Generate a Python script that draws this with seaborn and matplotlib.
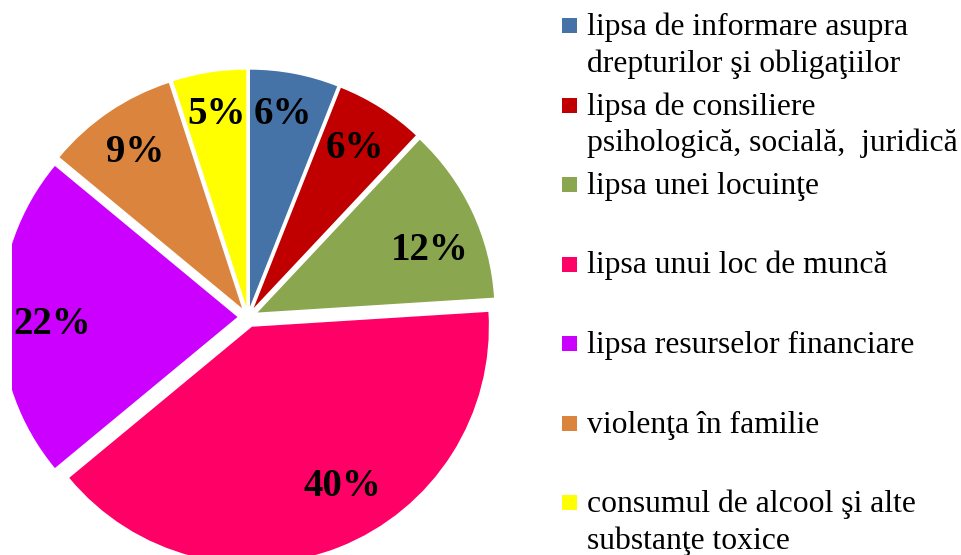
import matplotlib
matplotlib.use("Agg")
import matplotlib.pyplot as plt
import seaborn as sns
from matplotlib.patches import Rectangle

# data
categories = [
    "lipsa de informare asupra\ndrepturilor şi obligaţiilor",
    "lipsa de consiliere\npsihologică, socială,  juridică",
    "lipsa unei locuinţe",
    "lipsa unui loc de muncă",
    "lipsa resurselor financiare",
    "violenţa în familie",
    "consumul de alcool şi alte\nsubstanţe toxice",
]
shares = [6, 6, 12, 40, 22, 9, 5]
colors = ["#4572A7", "#C00000", "#8AA64F", "#FF0066", "#CC00FF", "#DB843D", "#FFFF00"]

sns.set_theme(style="white")
plt.rcParams["font.family"] = ["Liberation Serif", "DejaVu Serif"]

W, H = 962, 555
fig = plt.figure(figsize=(W / 100, H / 100), dpi=100)
fig.patch.set_facecolor("white")

# pie axes in pixel units, left edge clipped like the original
left = 12
ax = fig.add_axes([left / W, 0, (W - left) / W, 1])
palette = sns.color_palette(colors)
wedges, texts, pcts = ax.pie(
    shares,
    colors=palette,
    startangle=90,
    counterclock=False,
    explode=[10.5] * len(shares),  # pixels, pie uses data units here
    radius=237,
    center=(248, H - 317),
    autopct=lambda p: f"{p:.0f}%",
    pctdistance=0.8,
    wedgeprops=dict(linewidth=0),
    textprops=dict(fontsize=28, fontweight="bold", color="black"),
)
for w in wedges:
    w.set_clip_on(True)
    w.set_clip_box(ax.bbox)

# nudge the percentage labels to where the original puts them (pixels from top-left)
label_xy = [(283, 114), (355, 149), (430, 251), (342, 486), (52, 324), (135, 152), (217, 114)]
for t, (x, y) in zip(pcts, label_xy):
    t.set_position((x, H - y))

ax.set_xlim(left, W)
ax.set_ylim(0, H)
ax.set_aspect("auto")
ax.axis("off")

# legend drawn in pixel coordinates
lax = fig.add_axes([0, 0, 1, 1])
lax.set_xlim(0, W)
lax.set_ylim(H, 0)
lax.axis("off")
# the original crops the pie at its left border
lax.add_patch(Rectangle((0, 0), left, H, facecolor="white", edgecolor="none"))

first_base = 35
step = 79.5
line_gap = 37
for i, (lab, col) in enumerate(zip(categories, palette)):
    base = first_base + i * step
    lax.add_patch(Rectangle((562, base - 17), 15, 15, facecolor=col, edgecolor="none"))
    for j, line in enumerate(lab.split("\n")):
        lax.text(587, base + j * line_gap, line, fontsize=22.8, va="baseline",
                 ha="left", color="black")

plt.savefig("out.png", dpi=100, facecolor="white")
plt.close()
